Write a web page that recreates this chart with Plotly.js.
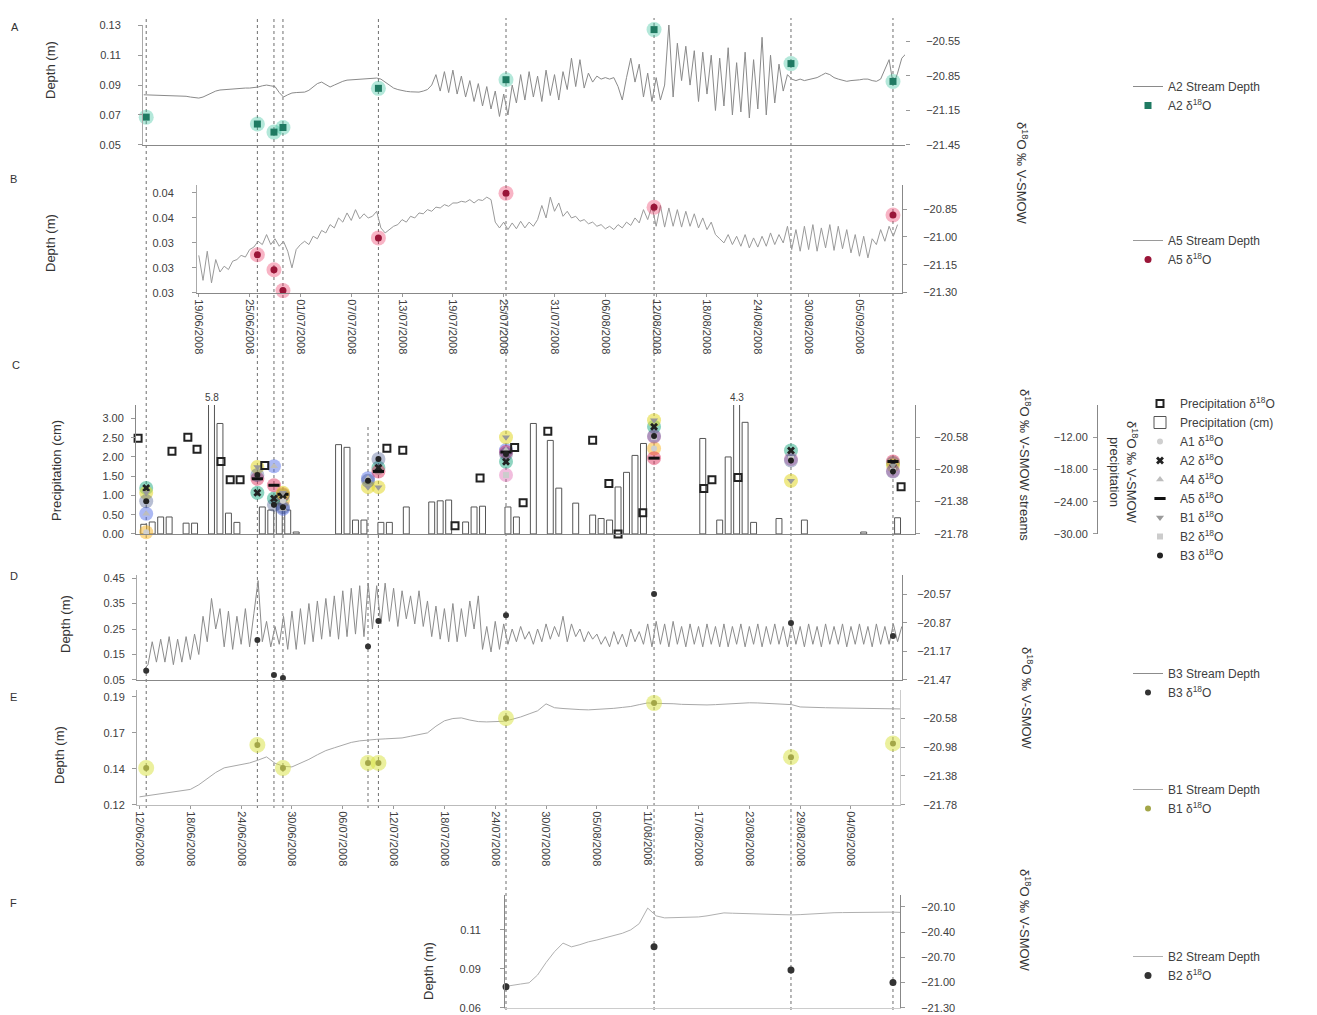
<!DOCTYPE html>
<html><head><meta charset="utf-8">
<script src="https://cdn.plot.ly/plotly-3.0.1.min.js"></script>
<style>html,body{margin:0;padding:0;background:#fff}#chart{width:1317px;height:1015px}</style>
</head><body><div id="chart"></div>
<script>
// ================= DATA =================
// sampling dates (vertical dashed lines)
const sampleDates = ['2008-06-12 19:00','2008-06-25 22:00','2008-06-27 21:00','2008-06-28 22:30','2008-07-08 23:30','2008-07-10 05:00','2008-07-25 06:30','2008-08-11 18:00','2008-08-27 22:00','2008-09-08 23:00'];
// stream δ18O (‰ V-SMOW), aligned to sampleDates (null = not sampled)
const isoA1 = [-21.76, null, null, -21.37, null, null, null, -20.72, null, null];
const isoA2 = [-21.21, -21.27, -21.34, -21.30, null, -20.96, -20.885, -20.45, -20.745, -20.90];
const isoA4 = [-21.53, null, -20.94, -21.47, -21.09, null, -20.74, -20.08, null, null];
const isoA5 = [null, -21.096, -21.177, -21.289, null, -21.005, -20.764, -20.84, null, -20.882];
const isoB1 = [-21.27, -20.95, null, -21.27, -21.20, -21.20, -20.58, -20.37, -21.12, -20.93];
const isoB2 = [null, null, null, null, null, null, -21.05, -20.575, -20.85, -21.00];
const isoB3 = [-21.375, -21.05, -21.42, -21.45, -21.12, -20.85, -20.79, -20.565, -20.87, -21.007];

// stream depth records (m)
const depthA2Start = '2008-06-12 12:00:00', depthA2StepH = 12;
const depthA2 = [0.0835,0.0834,0.0834,0.0833,0.0833,0.0832,0.0832,0.0831,0.0830,0.0828,
0.0825,0.0820,0.0815,0.0813,0.0820,0.0835,0.0850,0.0860,0.0867,
0.0870,0.0873,0.0875,0.0877,0.0878,0.0880,0.0880,0.0882,
0.0887,0.0895,0.0900,0.0895,0.0890,0.0850,0.0820,0.0835,0.0847,
0.0850,0.0852,0.0853,0.0865,0.0890,0.0910,0.0920,0.0905,0.0887,0.0900,0.0915,0.0925,
0.0933,0.0935,0.0938,0.0940,0.0945,0.0947,0.0948,0.0947,0.0940,0.0920,0.0900,0.0880,
0.0870,0.0862,0.0858,0.0855,0.0853,0.0853,0.0860,0.0870,
0.090,0.097,0.086,0.099,0.085,0.100,0.084,0.096,
0.082,0.093,0.079,0.091,0.076,
0.089,0.074,0.086,0.069,0.084,0.070,
0.090,0.078,0.097,0.080,0.099,0.082,0.096,
0.079,0.100,0.083,0.097,0.080,0.099,
0.087,0.108,0.089,0.107,0.088,
0.098,0.092,0.096,0.094,0.095,0.094,
0.095,0.089,0.080,0.095,0.108,0.092,
0.104,0.082,0.098,0.079,0.095,
0.080,0.090,0.131,0.082,0.118,
0.093,0.116,0.090,0.113,0.079,0.112,0.084,
0.110,0.073,0.108,0.076,0.115,0.070,0.105,
0.072,0.112,0.068,0.107,0.074,0.122,0.070,
0.110,0.078,0.104,0.086,0.097,
0.094,0.093,0.094,0.093,0.0935,0.094,0.095,0.0965,0.098,0.097,0.095,0.094,0.093,0.0925,0.093,0.093,0.0935,0.094,0.094,0.093,0.0925,
0.094,0.100,0.107,0.090,0.098,0.108,0.111];

const depthA5Start = '2008-06-19 00:00:00', depthA5StepH = 12;
const depthA5 = [0.0305,0.0275,0.0310,0.0272,0.0300,0.0285,
0.0292,0.0288,0.0298,0.0300,0.0305,
0.0303,0.0312,0.0315,0.0322,0.0318,
0.0330,0.0318,0.0325,0.0316,0.0322,
0.0310,0.0290,0.0312,0.0318,
0.0322,0.0318,0.0328,0.0325,0.0335,0.0332,
0.0342,0.0338,0.0350,0.0345,0.0356,
0.0347,0.0360,0.0349,0.0355,0.0350,
0.0352,0.0358,0.0338,0.0332,
0.0336,0.0340,0.0342,0.0348,0.0345,0.0352,
0.0350,0.0356,0.0355,0.0360,0.0358,
0.0363,0.0362,0.0366,0.0364,0.0368,
0.0368,0.0370,0.0369,0.0372,0.0368,
0.0372,0.0371,0.0375,0.0372,0.0345,
0.0338,0.0345,0.0336,0.0344,0.0337,0.0346,0.0338,0.0345,0.0340,0.0348,
0.0365,0.0350,0.0375,0.0358,0.0368,0.0352,
0.0358,0.0350,0.0352,0.0346,0.0348,0.0343,0.0345,0.0340,0.0342,
0.0337,0.0340,0.0336,0.0342,0.0338,0.0345,0.0341,0.0350,0.0344,0.0360,
0.0348,0.0364,0.0340,0.0365,0.0339,0.0362,0.0340,0.0360,0.0339,0.0358,0.0340,0.0355,0.0338,0.0350,0.0336,0.0345,0.0330,0.0325,0.0320,0.0330,
0.0318,0.0328,0.0316,0.0330,0.0314,0.0326,0.0315,0.0328,0.0316,0.0332,0.0318,0.0330,0.0320,0.0340,0.0312,
0.0336,0.0310,0.0340,0.0312,0.0342,0.0310,0.0338,0.0314,0.0342,0.0311,0.0340,0.0313,0.0336,0.0308,0.0330,
0.0304,0.0328,0.0302,0.0325,0.0318,0.0336,0.0322,0.0340,0.0328,0.0342];

const depthB3Start = '2008-06-12 12:00:00', depthB3StepH = 12;
const depthB3 = [0.09,0.11,0.20,0.12,
0.21,0.12,0.22,0.11,0.21,0.12,0.22,0.13,0.23,0.15,
0.30,0.20,0.37,0.25,
0.33,0.18,0.32,0.17,0.30,0.19,0.33,0.18,0.31,
0.44,0.20,
0.28,0.18,0.26,0.19,0.30,
0.17,0.32,0.17,0.33,0.19,
0.35,0.20,0.36,0.21,0.37,0.22,0.38,0.21,0.40,0.22,0.41,0.23,0.42,0.22,0.43,
0.25,0.42,0.27,0.43,0.28,0.41,0.26,0.40,0.29,0.38,0.27,0.40,
0.26,0.36,0.22,0.34,0.21,0.33,0.20,0.35,0.20,0.33,0.22,0.36,0.25,
0.38,0.17,0.26,0.16,0.28,0.17,
0.27,0.19,0.25,0.20,0.26,0.21,0.24,0.19,0.25,0.20,0.27,0.21,0.26,0.22,0.30,0.20,
0.27,0.22,0.25,0.20,0.24,0.21,0.23,0.19,0.22,0.18,0.24,0.19,0.23,0.18,0.25,0.20,0.24,0.19,
0.27,0.18,0.28,0.19,0.27,0.18,0.28,0.19,0.26,0.18,
0.27,0.19,0.26,0.18,0.27,0.19,0.26,0.18,0.27,0.18,
0.26,0.19,0.27,0.18,0.26,0.19,0.27,0.18,0.26,0.19,
0.27,0.19,0.26,0.18,0.27,0.19,0.26,0.18,0.27,0.19,
0.26,0.18,0.27,0.19,0.26,0.19,0.27,0.18,0.26,0.19,
0.27,0.19,0.26,0.18,0.27,0.19,0.26,0.19,0.27,0.20,
0.26];

const depthB1Start = '2008-06-12 00:00:00', depthB1StepH = 24;
const depthB1 = [0.1252,0.1260,0.1268,0.1276,0.1284,0.1292,0.1300,0.1330,0.1370,0.1410,
0.1440,0.1452,0.1463,0.1472,0.1490,0.1511,0.1470,0.1450,0.1446,0.1470,
0.1495,0.1525,0.1552,0.1570,0.1590,0.1605,0.1615,0.1621,0.1625,0.1628,
0.1632,0.1634,0.1645,0.1658,0.1667,0.1710,0.1745,0.1760,0.1764,0.1750,
0.1740,0.1738,0.1738,0.1742,0.1755,0.1770,0.1790,0.1810,0.1855,0.1830,
0.1825,0.1820,0.1818,0.1816,0.1818,0.1822,0.1826,0.1832,0.1838,0.1850,
0.1861,0.1858,0.1858,0.1856,0.1852,0.1850,0.1848,0.1848,0.1850,0.1853,
0.1856,0.1860,0.1862,0.1861,0.1858,0.1856,0.1855,0.1850,0.1835,0.1832,
0.1830,0.1830,0.1829,0.1828,0.1828,0.1829,0.1826,0.1824,0.1823,0.1822,0.1822];

const depthB2Start = '2008-07-25 00:00:00', depthB2StepH = 24;
const depthB2 = [0.0735,0.0745,0.0752,0.0760,0.0810,0.0890,0.0960,0.1015,0.0991,0.1005,
0.1023,0.1035,0.1049,0.1062,0.1078,0.1100,0.1140,0.1240,0.1190,0.1177,
0.1178,0.1180,0.1182,0.1183,0.1190,0.1200,0.1209,0.1207,0.1205,0.1204,
0.1203,0.1201,0.1199,0.1197,0.1196,0.1198,0.1202,0.1206,0.1209,0.1210,
0.1211,0.1212,0.1213,0.1214,0.1215,0.1215,0.1214,0.1212];

// daily precipitation (cm)
const precipDates = ['2008-06-12','2008-06-13','2008-06-14','2008-06-15','2008-06-17','2008-06-18','2008-06-20','2008-06-21','2008-06-22','2008-06-23',
'2008-06-26','2008-06-27','2008-06-28','2008-06-29','2008-06-30',
'2008-07-05','2008-07-06','2008-07-07','2008-07-08','2008-07-10','2008-07-11','2008-07-13',
'2008-07-16','2008-07-17','2008-07-18','2008-07-20','2008-07-21','2008-07-22',
'2008-07-25','2008-07-26','2008-07-28','2008-07-30','2008-07-31',
'2008-08-02','2008-08-04','2008-08-05','2008-08-06','2008-08-07','2008-08-08','2008-08-09','2008-08-10',
'2008-08-17','2008-08-19','2008-08-20','2008-08-21','2008-08-22','2008-08-23',
'2008-08-26','2008-08-29','2008-09-05','2008-09-09'];
const precipCm = [0.25,0.31,0.44,0.44,0.28,0.28,5.8,2.87,0.54,0.30,
0.70,0.62,0.78,0.62,0.05,
2.32,2.25,0.36,0.36,0.30,0.30,0.70,
0.83,0.86,0.88,0.31,0.70,0.72,
0.70,0.44,2.87,2.43,1.19,
0.80,0.49,0.40,0.36,1.22,1.60,2.04,2.35,
2.48,0.36,2.00,4.3,2.90,0.30,
0.40,0.36,0.05,0.42];

// precipitation δ18O (‰ V-SMOW)
const precipIsoDates = ['2008-06-11 20:00','2008-06-15 20:00','2008-06-17 17:00','2008-06-18 19:00','2008-06-21 15:00','2008-06-22 17:00','2008-06-23 21:00','2008-06-26 19:00',
'2008-07-11 05:00','2008-07-13 02:00','2008-07-19 06:00','2008-07-22 05:00','2008-07-26 07:00','2008-07-27 07:00','2008-07-30 05:00',
'2008-08-04 12:00','2008-08-06 10:00','2008-08-07 12:00','2008-08-10 10:00','2008-08-17 15:00','2008-08-18 14:00','2008-08-21 16:00','2008-09-09 22:00'];
const precipIso = [-12.2,-14.6,-12.0,-14.25,-16.5,-19.9,-19.9,-17.25,
-14.06,-14.44,-28.5,-19.6,-13.9,-24.2,-10.9,
-12.56,-20.6,-30.0,-26.06,-21.56,-19.9,-19.5,-21.2];

// axis tick values / labels
const ticksA_L = [0.05,0.07,0.09,0.11,0.13];
const ticksA_R = [-21.45,-21.15,-20.85,-20.55];
const ticksB_L = [0.026,0.029,0.032,0.035,0.038];
const labelsB_L = ['0.03','0.03','0.03','0.04','0.04'];
const ticksB_R = [-21.30,-21.15,-21.00,-20.85];
const ticksC_L = [0,0.5,1,1.5,2,2.5,3];
const ticksC_R1 = [-21.78,-21.38,-20.98,-20.58];
const ticksC_R2 = [-30,-24,-18,-12];
const ticksD_L = [0.05,0.15,0.25,0.35,0.45];
const ticksD_R = [-21.47,-21.17,-20.87,-20.57];
const ticksE_L = [0.12,0.1433,0.1667,0.19];
const labelsE_L = ['0.12','0.14','0.17','0.19'];
const ticksE_R = [-21.78,-21.38,-20.98,-20.58];
const ticksF_L = [0.06,0.085,0.11];
const labelsF_L = ['0.06','0.09','0.11'];
const ticksF_R = [-21.30,-21.00,-20.70,-20.40,-20.10];

// ================= LAYOUT HELPERS =================
const W = 1317, H = 1015, DAY = 86400000;
const FONT = 'Liberation Sans, Arial, sans-serif';
const T0 = Date.UTC(2008, 5, 12), PX0 = 139.5, PX_PER_DAY = 8.47;
function iso(ms){ return new Date(ms).toISOString().slice(0,19).replace('T',' '); }
function pxDate(px){ return iso(T0 + (px - PX0) / PX_PER_DAY * DAY); }
function times(start, stepH, n){ const t0 = Date.parse(start.replace(' ','T') + 'Z'); const o=[]; for(let i=0;i<n;i++) o.push(iso(t0 + i*stepH*3600000)); return o; }
function xdom(b){ return [b.l / W, b.r / W]; }
function ydom(b){ return [1 - b.b / H, 1 - b.t / H]; }
const P = {
  A:{l:143,r:905,t:25,b:145}, B:{l:197,r:902,t:185,b:293}, C:{l:136,r:915,t:405,b:534},
  D:{l:137,r:902,t:575,b:680}, E:{l:137,r:900,t:690,b:805}, F:{l:505,r:900,t:895,b:1008}
};
const tickFont = {family:FONT, size:11, color:'#404040'};
function yax(o){ return Object.assign({showgrid:false, zeroline:false, showline:true, linecolor:'#aaa', linewidth:1, ticks:'outside', ticklen:4, tickcolor:'#999', tickfont:tickFont, fixedrange:true}, o); }
function xax(b, o){ return Object.assign({type:'date', domain:xdom(b), range:[pxDate(b.l), pxDate(b.r)], showgrid:false, zeroline:false, showline:true, linecolor:'#888', ticks:'', showticklabels:false, tickfont:tickFont, fixedrange:true}, o); }

const data = [];
function line(name, x, y, xa, ya, leg, color){ return {type:'scatter', mode:'lines', name, x, y, xaxis:xa, yaxis:ya, legend:leg, line:{color, width:1}, hoverinfo:'skip'}; }
function halo(x, y, xa, ya, color, size){ return {type:'scatter', mode:'markers', x, y, xaxis:xa, yaxis:ya, showlegend:false, hoverinfo:'skip', cliponaxis:false, marker:{size, color, line:{width:0}}}; }
function core(name, x, y, xa, ya, leg, marker){ return {type:'scatter', mode:'markers', name, x, y, xaxis:xa, yaxis:ya, legend:leg, cliponaxis:false, marker}; }
const d18 = 'δ<sup>18</sup>O';

// Panel A
data.push(line('A2 Stream Depth', times(depthA2Start, depthA2StepH, depthA2.length), depthA2, 'x', 'y', 'legend', '#8a8a8a'));
data.push(halo(sampleDates, isoA2, 'x', 'y2', 'rgba(40,190,150,0.35)', 15));
data.push(core('A2 ' + d18, sampleDates, isoA2, 'x', 'y2', 'legend', {symbol:'square', size:7, color:'#1f7a62'}));
// Panel B
data.push(line('A5 Stream Depth', times(depthA5Start, depthA5StepH, depthA5.length), depthA5, 'x2', 'y3', 'legend2', '#9a9a9a'));
data.push(halo(sampleDates, isoA5, 'x2', 'y4', 'rgba(235,40,90,0.35)', 15));
data.push(core('A5 ' + d18, sampleDates, isoA5, 'x2', 'y4', 'legend2', {symbol:'circle', size:7, color:'#9a1538'}));
// Panel C
data.push(core('Precipitation ' + d18, precipIsoDates, precipIso, 'x3', 'y7', 'legend3', {symbol:'square-open', size:7, color:'#222', line:{width:2, color:'#222'}}));
data.push({type:'bar', name:'Precipitation (cm)', x:precipDates, y:precipCm, xaxis:'x3', yaxis:'y5', legend:'legend3', xperiod:DAY, xperiodalignment:'middle', width:0.7*DAY, marker:{color:'#fff', line:{color:'#555', width:1}}, hoverinfo:'skip'});
const cSeries = [
  ['A1', isoA1, 'rgba(250,180,30,0.5)', {symbol:'circle', size:6, color:'#cfcfcf'}],
  ['A2', isoA2, 'rgba(30,170,130,0.5)', {symbol:'x', size:7, color:'#222'}],
  ['A4', isoA4, 'rgba(70,100,230,0.45)', {symbol:'triangle-up', size:7, color:'#bdbdbd'}],
  ['A5', isoA5, 'rgba(220,30,80,0.45)', {symbol:'line-ew', size:8, color:'#111', line:{width:3, color:'#111'}}],
  ['B1', isoB1, 'rgba(225,215,40,0.55)', {symbol:'triangle-down', size:7, color:'#9a9a9a'}],
  ['B2', isoB2, 'rgba(220,90,170,0.4)', {symbol:'square', size:6, color:'#cccccc'}],
  ['B3', isoB3, 'rgba(50,70,130,0.35)', {symbol:'circle', size:6, color:'#222'}]
];
cSeries.forEach(s => data.push(halo(sampleDates, s[1], 'x3', 'y6', s[2], 14)));
cSeries.forEach(s => data.push(core(s[0] + ' ' + d18, sampleDates, s[1], 'x3', 'y6', 'legend3', s[3])));
// Panel D
data.push(line('B3 Stream Depth', times(depthB3Start, depthB3StepH, depthB3.length), depthB3, 'x4', 'y8', 'legend4', '#8c8c8c'));
data.push(core('B3 ' + d18, sampleDates, isoB3, 'x4', 'y9', 'legend4', {symbol:'circle', size:6, color:'#333'}));
// Panel E
data.push(line('B1 Stream Depth', times(depthB1Start, depthB1StepH, depthB1.length), depthB1, 'x5', 'y10', 'legend5', '#a8a8a8'));
data.push(halo(sampleDates, isoB1, 'x5', 'y11', 'rgba(215,225,60,0.5)', 16));
data.push(core('B1 ' + d18, sampleDates, isoB1, 'x5', 'y11', 'legend5', {symbol:'circle', size:6, color:'#a3a648'}));
// Panel F
data.push(line('B2 Stream Depth', times(depthB2Start, depthB2StepH, depthB2.length), depthB2, 'x6', 'y12', 'legend6', '#b0b0b0'));
data.push(core('B2 ' + d18, sampleDates, isoB2, 'x6', 'y13', 'legend6', {symbol:'circle', size:7, color:'#333'}));

// ================= LAYOUT =================
const cTop = 3.35;
const layout = {
  width:W, height:H, margin:{l:0,r:0,t:0,b:0,pad:0},
  paper_bgcolor:'#fff', plot_bgcolor:'rgba(0,0,0,0)', showlegend:true,
  font:{family:FONT, size:11, color:'#404040'},
  xaxis: xax(P.A, {anchor:'y'}),
  yaxis: yax({domain:ydom(P.A), anchor:'x', range:[0.0499,0.1302], tickvals:ticksA_L, tickformat:'.2f', ticklabelstandoff:15}),
  yaxis2: yax({overlaying:'y', side:'right', anchor:'x', range:[-21.452,-20.41], tickvals:ticksA_R, tickformat:'.2f', ticklabelstandoff:14, showline:false}),
  xaxis2: xax(P.B, {anchor:'y3', showticklabels:true, tickformat:'%d/%m/%Y', tick0:'2008-06-19', dtick:6*DAY, tickangle:90, ticks:'outside', ticklen:3, tickcolor:'#999'}),
  yaxis3: yax({domain:ydom(P.B), anchor:'x2', range:[0.02598,0.03896], tickvals:ticksB_L, ticktext:labelsB_L, ticklabelstandoff:16}),
  yaxis4: yax({overlaying:'y3', side:'right', anchor:'x2', range:[-21.302,-20.72], tickvals:ticksB_R, tickformat:'.2f', ticklabelstandoff:14, linecolor:'#888'}),
  xaxis3: xax(P.C, {anchor:'y5'}),
  yaxis5: yax({domain:ydom(P.C), anchor:'x3', range:[-0.002,cTop], tickvals:ticksC_L, tickformat:'.2f', ticklabelstandoff:5, linecolor:'#888'}),
  yaxis6: yax({overlaying:'y5', side:'right', anchor:'x3', range:[-21.782,-20.18], tickvals:ticksC_R1, tickformat:'.2f', ticklabelstandoff:12, linecolor:'#888'}),
  yaxis7: yax({overlaying:'y5', side:'left', anchor:'free', position:1097/W, range:[-30.02,-6], tickvals:ticksC_R2, tickformat:'.2f', ticklabelstandoff:3, linecolor:'#888'}),
  xaxis4: xax(P.D, {anchor:'y8'}),
  yaxis8: yax({domain:ydom(P.D), anchor:'x4', range:[0.0498,0.462], tickvals:ticksD_L, tickformat:'.2f', ticklabelstandoff:5}),
  yaxis9: yax({overlaying:'y8', side:'right', anchor:'x4', range:[-21.472,-20.365], tickvals:ticksD_R, tickformat:'.2f', ticklabelstandoff:8, linecolor:'#888'}),
  xaxis5: xax(P.E, {anchor:'y10', showticklabels:true, tickformat:'%d/%m/%Y', tick0:'2008-06-12', dtick:6*DAY, tickangle:90, ticks:'outside', ticklen:3, tickcolor:'#999', linecolor:'#bbb'}),
  yaxis10: yax({domain:ydom(P.E), anchor:'x5', range:[0.1199,0.1945], tickvals:ticksE_L, ticktext:labelsE_L, ticklabelstandoff:5}),
  yaxis11: yax({overlaying:'y10', side:'right', anchor:'x5', range:[-21.782,-20.19], tickvals:ticksE_R, tickformat:'.2f', ticklabelstandoff:16, linecolor:'#ccc'}),
  xaxis6: xax(P.F, {anchor:'y12', linecolor:'#ccc'}),
  yaxis12: yax({domain:ydom(P.F), anchor:'x6', range:[0.0598,0.1324], tickvals:ticksF_L, ticktext:labelsF_L, ticklabelstandoff:17, linecolor:'#888'}),
  yaxis13: yax({overlaying:'y12', side:'right', anchor:'x6', range:[-21.302,-19.96], tickvals:ticksF_R, tickformat:'.2f', ticklabelstandoff:14, linecolor:'#888'}),
  shapes:[], annotations:[]
};
function leg(topPx, xPx){ return {x:xPx/W, y:1 - topPx/H, xanchor:'left', yanchor:'top', bgcolor:'rgba(0,0,0,0)', font:{family:FONT, size:12, color:'#404040'}, itemwidth:30, tracegroupgap:0, traceorder:'normal'}; }
layout.legend = leg(72, 1128); layout.legend2 = leg(226, 1128); layout.legend3 = leg(389, 1140);
layout.legend4 = leg(659, 1128); layout.legend5 = leg(775, 1128); layout.legend6 = leg(942, 1128);

// dashed sampling lines
const fStart = pxDate(P.F.l);
sampleDates.forEach((d, i) => {
  const topPx = isoA2[i] !== null ? 18 : P.C.t + 20;
  const botPx = d >= fStart ? 1010 : 808;
  layout.shapes.push({type:'line', xref:'x5', yref:'paper', x0:d, x1:d, y0:1 - botPx/H, y1:1 - topPx/H, layer:'below', line:{color:'#6e6e6e', width:1, dash:'3px,3px'}});
});

// labels for precipitation bars that exceed the axis
precipDates.forEach((d, i) => {
  if (precipCm[i] > cTop) layout.annotations.push({xref:'x3', yref:'y5', x:iso(Date.parse(d + 'T00:00:00Z') + DAY/2), y:cTop, yanchor:'bottom', text:String(precipCm[i]), showarrow:false, font:{family:FONT, size:10, color:'#404040'}});
});

function ann(text, px, py, angle, size, extra){ layout.annotations.push(Object.assign({xref:'paper', yref:'paper', x:px/W, y:1 - py/H, text, showarrow:false, textangle:angle, font:{family:FONT, size, color:'#333'}, xanchor:'center', yanchor:'middle'}, extra||{})); }
// panel letters
[['A',15,27],['B',14,179],['C',16,365],['D',14,576],['E',14,697],['F',14,903]].forEach(a => ann(a[0], a[1], a[2], 0, 11));
// left titles
ann('Depth (m)', 50, 70, -90, 13);
ann('Depth (m)', 50, 243, -90, 13);
ann('Precipitation (cm)', 57, 471, -90, 13);
ann('Depth (m)', 65, 624, -90, 13);
ann('Depth (m)', 59, 755, -90, 13);
ann('Depth (m)', 428, 971, -90, 13);
// right titles
ann(d18 + ' ‰ V-SMOW', 1022, 173, 90, 13);
ann(d18 + ' ‰ V-SMOW streams', 1025, 465, 90, 13);
ann(d18 + ' ‰ V-SMOW<br>precipitation', 1124, 472, 90, 13);
ann(d18 + ' ‰ V-SMOW', 1027, 698, 90, 13);
ann(d18 + ' ‰ V-SMOW', 1025, 920, 90, 13);

Plotly.newPlot('chart', data, layout, {staticPlot:true, displayModeBar:false});
</script></body></html>
